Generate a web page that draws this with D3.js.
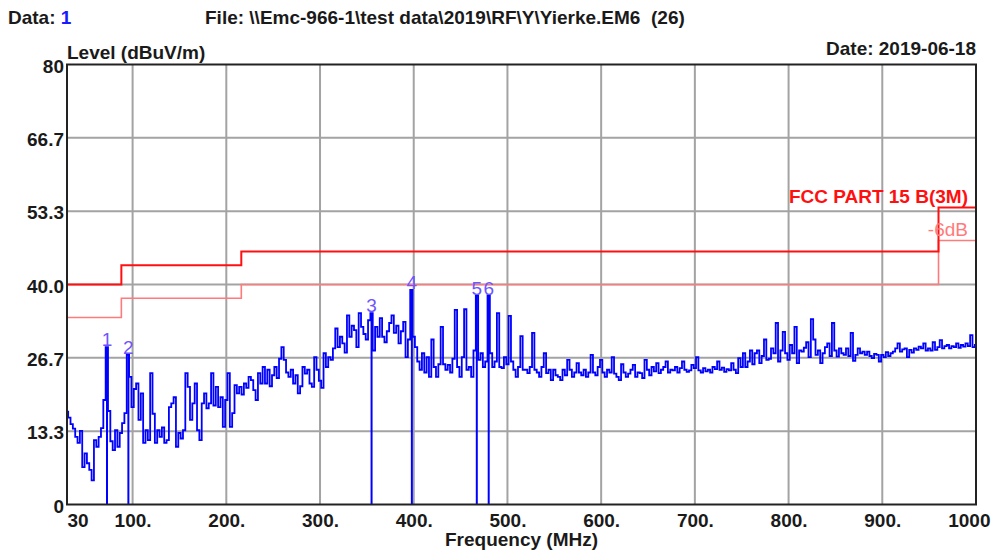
<!DOCTYPE html>
<html>
<head>
<meta charset="utf-8">
<script src="https://cdn.jsdelivr.net/npm/d3@7"></script>
<style>
  html, body { margin: 0; padding: 0; background: #fff; }
  svg { display: block; font-family: "Liberation Sans", Arial, sans-serif; }
  text { white-space: pre; }
</style>
</head>
<body>
<svg id="chart" width="992" height="551"></svg>
<script>
// ---------------- data ----------------
const sweepStart = 30;      // MHz
const sweepStep = 2.5;      // MHz
// measured level (dBuV/m), one value per sweep step, 30 ... 1000 MHz
const levels = [
  16.9, 15.8, 14.6, 13.8, 12.3, 11.2, 13.4, 6.8, 9.3, 7.5,
  6.3, 4.4, 11.7, 10.5, 12.3, 13.9, 19.0, 28.6, 17.0, 11.5,
  9.9, 13.5, 10.5, 13.0, 14.8, 16.6, 27.2, 23.2, 17.7, 21.0,
  22.0, 15.4, 20.2, 11.2, 13.5, 11.7, 23.9, 16.5, 11.2, 13.5,
  12.3, 14.0, 11.2, 11.7, 17.7, 18.4, 19.5, 10.5, 13.0, 12.0,
  13.5, 23.9, 21.4, 15.4, 18.4, 22.0, 13.5, 11.7, 18.4, 20.2,
  17.5, 18.4, 23.9, 18.0, 21.4, 17.7, 19.5, 14.1, 19.0, 23.9,
  14.1, 16.6, 21.7, 20.2, 21.4, 20.0, 22.0, 21.2, 23.2, 22.6,
  20.8, 19.0, 23.9, 22.0, 25.0, 22.0, 24.5, 21.5, 23.5, 25.0,
  23.0, 26.5, 28.6, 26.3, 24.0, 23.2, 24.5, 22.0, 23.5, 20.2,
  21.5, 25.0, 23.8, 24.5, 22.0, 21.4, 26.8, 24.5, 22.5, 21.2,
  27.5, 25.0, 26.8, 26.3, 28.4, 32.0, 28.6, 30.5, 29.3, 27.6,
  34.4, 30.5, 32.5, 31.7, 28.6, 34.8, 32.3, 31.0, 30.0, 33.5,
  34.8, 28.0, 32.3, 30.5, 33.9, 30.5, 29.5, 31.5, 33.0, 34.4,
  31.2, 32.5, 29.3, 31.5, 33.2, 26.8, 30.0, 39.0, 30.5, 28.6,
  26.0, 24.5, 27.5, 24.0, 26.8, 23.2, 30.0, 25.0, 23.2, 25.5,
  32.3, 25.5, 24.5, 25.4, 24.0, 26.5, 35.4, 25.0, 23.2, 26.8,
  35.5, 24.5, 25.0, 23.2, 28.0, 38.0, 26.3, 27.5, 25.0, 26.0,
  38.0, 27.5, 25.0, 26.0, 34.8, 25.0, 24.8, 26.8, 25.5, 34.3,
  26.0, 24.5, 23.2, 25.0, 30.6, 24.5, 24.5, 23.9, 25.0, 31.2,
  24.5, 24.0, 23.2, 25.0, 27.5, 23.9, 24.5, 22.6, 24.5, 23.5,
  23.2, 22.6, 24.5, 23.5, 26.3, 24.5, 23.2, 24.0, 25.7, 24.0,
  23.5, 24.5, 23.2, 24.0, 27.2, 24.0, 23.5, 25.0, 26.3, 24.0,
  23.2, 24.5, 24.0, 26.8, 23.8, 23.2, 22.6, 25.5, 24.0, 23.2,
  23.8, 24.5, 25.4, 23.2, 24.0, 23.9, 23.0, 26.3, 24.5, 23.5,
  25.0, 24.2, 25.7, 23.9, 24.5, 25.0, 26.0, 24.0, 24.5, 24.4,
  25.0, 24.0, 24.8, 26.0, 24.5, 24.1, 24.4, 25.4, 24.8, 26.8,
  24.4, 24.0, 24.8, 24.2, 24.5, 24.0, 25.0, 24.6, 26.0, 24.5,
  24.9, 24.1, 24.6, 24.4, 25.7, 24.5, 23.9, 26.6, 25.0, 27.5,
  25.0, 26.0, 28.0, 25.5, 27.5, 28.0, 25.7, 27.0, 30.0, 26.3,
  26.5, 28.4, 27.5, 33.0, 26.0, 28.0, 31.4, 27.5, 26.3, 29.0,
  27.5, 32.3, 25.7, 28.0, 27.8, 28.5, 29.5, 26.8, 33.7, 30.0,
  27.2, 28.0, 25.7, 27.5, 28.6, 29.3, 27.0, 33.0, 28.0, 26.9,
  28.4, 27.5, 27.2, 28.4, 27.0, 31.2, 26.1, 27.2, 28.4, 27.5,
  27.8, 27.2, 27.8, 27.0, 26.6, 27.4, 27.2, 26.0, 27.2, 26.8,
  27.7, 27.0, 27.5, 27.8, 28.4, 29.3, 27.8, 28.2, 28.4, 26.8,
  28.1, 27.6, 28.4, 28.1, 28.7, 28.4, 29.3, 28.0, 28.4, 28.0,
  29.5, 28.1, 28.6, 29.9, 28.4, 28.8, 29.0, 28.4, 28.8, 28.6,
  29.3, 28.5, 29.0, 28.7, 29.3, 28.8, 30.8, 28.6, 29.0
];

// markers
const markerIds    = ["1", "2", "3", "4", "5", "6"];
const markerFreqs  = [72.7, 95.5, 355, 398, 467.3, 480];
const markerLevels = [28.6, 27.2, 34.8, 39.0, 38.0, 38.0];

// FCC Part 15 class B (3 m) limit and -6 dB margin line
const limitFreqs   = [30, 88, 216, 960, 1000];
const limitLevels  = [40, 43.5, 46, 54];
const marginLevels = [34, 37.5, 40, 48];
const limitName  = "FCC PART 15 B(3M)";
const marginName = "-6dB";

// axes
const xTicks      = [30, 100, 200, 300, 400, 500, 600, 700, 800, 900, 1000];
const xTickLabels = ["30", "100.", "200.", "300.", "400.", "500.", "600.", "700.", "800.", "900.", "1000"];
const yTicks      = [0, 80 / 6, 160 / 6, 40, 320 / 6, 400 / 6, 80];
const yTickLabels = ["0", "13.3", "26.7", "40.0", "53.3", "66.7", "80"];

const headerData = "1";
const headerFile = "File: \\\\Emc-966-1\\test data\\2019\\RF\\Y\\Yierke.EM6  (26)";
const headerDate = "Date: 2019-06-18";
const yTitle = "Level (dBuV/m)";
const xTitle = "Frequency (MHz)";

// ---------------- drawing ----------------
const W = 992, H = 551;
const plot = { left: 67, right: 976, top: 64.5, bottom: 504.5 };
const svg = d3.select("#chart");
const FS = 19;

const x = d3.scaleLinear().domain([30, 1000]).range([plot.left, plot.right]);
const y = d3.scaleLinear().domain([0, 80]).range([plot.bottom, plot.top]);

// grid
const grid = svg.append("g").attr("stroke", "#a3a3a3").attr("stroke-width", 2);
grid.selectAll("line.v").data(xTicks.slice(1, -1)).join("line")
  .attr("x1", d => x(d)).attr("x2", d => x(d))
  .attr("y1", y(80)).attr("y2", y(0));
grid.selectAll("line.h").data(yTicks.slice(1, -1)).join("line")
  .attr("x1", x(30)).attr("x2", x(1000))
  .attr("y1", d => y(d)).attr("y2", d => y(d));

// limit lines
const stepLine = d3.line().x(d => x(d[0])).y(d => y(d[1])).curve(d3.curveStepAfter);
const limitPts  = limitFreqs.map((f, i) => [f, limitLevels[Math.min(i, limitLevels.length - 1)]]);
const marginPts = limitFreqs.map((f, i) => [f, marginLevels[Math.min(i, marginLevels.length - 1)]]);
svg.append("path").attr("d", stepLine(marginPts))
  .attr("fill", "none").attr("stroke", "#ff7b7b").attr("stroke-width", 1.6);
svg.append("path").attr("d", stepLine(limitPts))
  .attr("fill", "none").attr("stroke", "#ff1010").attr("stroke-width", 2);

// trace
const trace = levels.map((v, i) => [sweepStart + i * sweepStep, v]);
const traceLine = d3.line().x(d => x(d[0])).y(d => y(d[1])).curve(d3.curveStep);
svg.append("path").attr("d", traceLine(trace))
  .attr("fill", "none").attr("stroke", "#0000ff").attr("stroke-width", 1.8)
  .attr("stroke-linejoin", "miter");

// markers
const markers = markerIds.map((id, i) => ({ id, f: markerFreqs[i], v: markerLevels[i] }));
svg.append("g").selectAll("line").data(markers).join("line")
  .attr("x1", d => x(d.f)).attr("x2", d => x(d.f))
  .attr("y1", d => y(d.v)).attr("y2", y(0))
  .attr("stroke", "#0000ff").attr("stroke-width", 2);
svg.append("g").selectAll("text").data(markers).join("text")
  .attr("x", d => x(d.f)).attr("y", d => y(d.v) - 1)
  .attr("text-anchor", "middle")
  .attr("font-size", FS).attr("fill", "#6f55ff")
  .text(d => d.id);

// frame
svg.append("rect")
  .attr("x", x(30)).attr("y", y(80))
  .attr("width", x(1000) - x(30)).attr("height", y(0) - y(80))
  .attr("fill", "none").attr("stroke", "#222").attr("stroke-width", 2);

// axes
const xAxis = svg.append("g").attr("transform", `translate(0,${y(0)})`)
  .call(d3.axisBottom(x).tickValues(xTicks).tickFormat((d, i) => xTickLabels[i]).tickSize(0).tickPadding(0));
xAxis.select(".domain").remove();
xAxis.selectAll("text")
  .attr("dy", 0).attr("y", 22)
  .attr("font-family", "Liberation Sans, Arial, sans-serif")
  .attr("font-size", FS).attr("font-weight", "bold").attr("fill", "#1a1a1a")
  .attr("text-anchor", (d, i) => i === 0 ? "start" : (i === xTicks.length - 1 ? "end" : "middle"))
  .attr("dx", (d, i) => i === xTicks.length - 1 ? 14 : 0);

const yAxis = svg.append("g").attr("transform", `translate(${x(30)},0)`)
  .call(d3.axisLeft(y).tickValues(yTicks).tickFormat((d, i) => yTickLabels[i]).tickSize(0).tickPadding(3));
yAxis.select(".domain").remove();
yAxis.selectAll("text")
  .attr("dy", 7.5)
  .attr("font-family", "Liberation Sans, Arial, sans-serif")
  .attr("font-size", FS).attr("font-weight", "bold").attr("fill", "#1a1a1a");

// titles and header
const bold = sel => sel.attr("font-size", FS).attr("font-weight", "bold");
const hdr = svg.append("text").attr("x", 8).attr("y", 24).call(bold).attr("fill", "#1a1a1a");
hdr.append("tspan").text("Data: ");
hdr.append("tspan").attr("fill", "#1a1aff").text(headerData);
svg.append("text").attr("x", 205).attr("y", 24).call(bold).attr("fill", "#1a1a1a").text(headerFile);
svg.append("text").attr("x", plot.right).attr("y", 55).attr("text-anchor", "end")
  .call(bold).attr("fill", "#1a1a1a").text(headerDate);
svg.append("text").attr("x", plot.left).attr("y", 59).call(bold).attr("fill", "#1a1a1a").text(yTitle);
svg.append("text").attr("x", (plot.left + plot.right) / 2).attr("y", 546).attr("text-anchor", "middle")
  .call(bold).attr("fill", "#1a1a1a").text(xTitle);

// legend labels
svg.append("text").attr("x", 968).attr("y", y(54) - 5).attr("text-anchor", "end")
  .call(bold).attr("fill", "#ff1010").text(limitName);
svg.append("text").attr("x", 968).attr("y", y(48) - 5).attr("text-anchor", "end")
  .attr("font-size", FS).attr("fill", "#ff7b7b").text(marginName);
</script>
</body>
</html>
